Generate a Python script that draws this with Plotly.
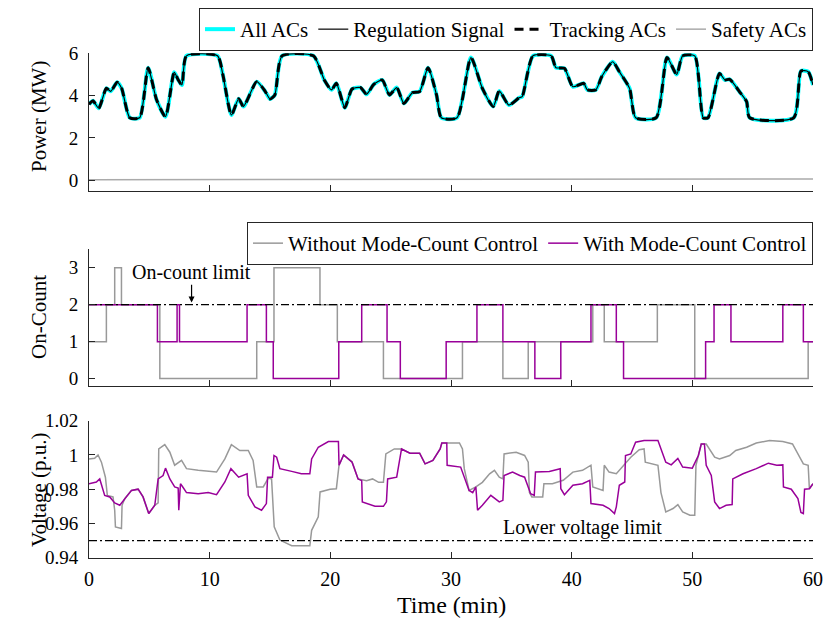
import plotly.graph_objects as go

# ---------------- data ----------------
# Top panel: power (MW) vs time (min)
power_t = [0, 0.33, 0.81, 1.44, 1.8, 2.33, 2.7, 3.38, 4.2, 4.9, 5.6, 6.34, 7.06, 7.4, 7.7, 8.08,
           10.65, 11.1, 11.8, 12.4, 12.8, 13.9, 14.6, 15.0, 15.4, 16.0, 18.6, 19.5, 20.1, 20.5,
           21.2, 21.8, 22.5, 23.0, 23.6, 24.3, 24.9, 25.5, 26.1, 26.8, 27.4, 28.1, 28.8, 29.2,
           30.5, 31.65, 32.6, 33.5, 34.0, 34.8, 35.65, 35.9, 36.8, 38.3, 38.7, 39.4, 40.1, 41.0,
           41.3, 42.0, 42.5, 43.4, 43.95, 44.8, 45.3, 47.0, 47.9, 48.7, 49.2, 50.2, 50.9, 51.3,
           52.25, 52.7, 53.1, 53.9, 54.5, 54.75, 58.4, 59.0, 59.6, 60]
regulation_signal = [3.59, 3.75, 3.4, 4.35, 4.2, 4.63, 4.35, 2.95, 2.95, 5.32, 3.8, 3.0, 5.1, 4.74,
                     4.5, 5.88, 5.88, 4.97, 3.08, 3.85, 3.48, 4.66, 4.2, 3.84, 4.03, 5.88, 5.88,
                     4.74, 4.27, 4.58, 3.43, 4.31, 4.38, 4.06, 4.53, 4.74, 4.03, 4.38, 3.63, 4.14,
                     4.19, 5.32, 4.03, 2.95, 2.95, 5.8, 4.34, 3.48, 4.22, 3.55, 3.9, 3.95, 5.88,
                     5.88, 5.32, 5.29, 4.42, 4.58, 4.27, 4.27, 4.9, 5.6, 5.13, 4.34, 2.95, 2.95,
                     5.8, 5.0, 5.88, 5.88, 2.95, 2.95, 5.05, 4.74, 4.77, 4.19, 3.71, 2.95, 2.95,
                     5.16, 5.13, 4.5]
all_acs = list(regulation_signal)
tracking_acs = list(regulation_signal)
safety_t = [0, 20, 40, 60]
safety_acs = [0.02, 0.02, 0.03, 0.05]

# Middle panel: on-count (step)
without_t = [0, 1.44, 2.13, 2.69, 5.87, 13.9, 15.33, 19.14, 20.58, 24.4, 30.95, 34.3, 36.4,
             41.75, 42.7, 47.1, 50.2, 59.6, 60]
without_count = [1, 2, 3, 2, 0, 1, 3, 2, 1, 0, 1, 0, 1, 2, 1, 2, 0, 1, 1]
with_t = [0, 5.67, 7.3, 7.5, 13.1, 14.7, 15.27, 20.7, 22.6, 24.7, 25.8, 29.6, 32.15, 34.3,
          36.95, 39.1, 41.6, 43.7, 44.3, 51.1, 51.8, 53.2, 57.5, 59.2, 60]
with_count = [2, 1, 2, 1, 2, 1, 0, 1, 2, 1, 0, 1, 2, 1, 0, 1, 2, 1, 0, 1, 2, 1, 2, 1, 1]
on_count_limit = 2

# Bottom panel: voltage (p.u.)
v_without_t = [0, 0.47, 0.75, 1.03, 1.36, 1.52, 1.99, 2.13, 2.19, 2.69, 2.74, 2.96, 3.52, 4.07,
               4.48, 4.95, 5.45, 5.73, 5.78, 6.28, 6.7, 7.1, 7.67, 8.08, 9.05, 10.57, 11.26,
               11.8, 12.5, 13.2, 13.6, 13.9, 14.44, 14.86, 15.13, 15.35, 15.82, 16.8, 18.3,
               18.45, 19.0, 19.15, 19.98, 20.5, 20.72, 21.1, 21.8, 22.3, 23.0, 23.5, 24.0, 24.4,
               24.6, 25.3, 25.9, 26.6, 27.4, 27.85, 28.5, 29.1, 29.24, 30.7, 30.95, 31.1, 31.5,
               32.06, 32.6, 33.2, 33.6, 34.0, 34.3, 34.4, 35.4, 36.1, 36.4, 36.5, 36.7, 37.6,
               37.7, 38.4, 39.3, 40.1, 40.9, 41.6, 41.75, 42.6, 42.7, 43.1, 43.7, 44.4, 44.9,
               45.6, 46.0, 46.1, 46.7, 47.15, 47.4, 47.8, 48.4, 48.8, 49.2, 49.8, 50.2, 50.3,
               50.74, 51.15, 51.85, 52.25, 53.1, 53.6, 54.5, 55.3, 56.4, 57.5, 58.3, 59.2, 59.6,
               59.7, 60]
v_without = [0.9977, 0.998, 1.0, 0.9958, 0.987, 0.9764, 0.9755, 0.9677, 0.958, 0.957, 0.9706,
             0.9745, 0.9793, 0.98, 0.9755, 0.9658, 0.9706, 0.972, 1.0035, 1.006, 1.0016, 0.994,
             0.9968, 0.992, 0.991, 0.99, 0.9977, 1.006, 1.0026, 1.0026, 0.9968, 0.9813, 0.9813,
             0.9865, 0.986, 0.958, 0.9503, 0.947, 0.947, 0.956, 0.9639, 0.9784, 0.98, 0.9803,
             0.994, 1.0, 0.996, 0.986, 0.985, 0.986, 0.984, 0.984, 1.0006, 1.0035, 1.0035, 1.001,
             1.001, 0.9948, 0.9968, 1.0035, 1.007, 1.007, 1.0035, 0.992, 0.9793, 0.9813, 0.984,
             0.989, 0.991, 0.987, 0.986, 1.0006, 1.0016, 0.9997, 0.9958, 0.978, 0.9755, 0.9755,
             0.9832, 0.9832, 0.9852, 0.99, 0.991, 0.994, 0.9813, 0.9793, 0.994, 0.99, 0.989,
             0.9948, 0.9987, 1.0031, 1.0035, 0.9958, 0.9948, 0.994, 0.978, 0.9667, 0.9687, 0.971,
             0.9667, 0.9648, 0.9648, 0.994, 1.0064, 1.0064, 0.9987, 0.9977, 0.9997, 1.0026,
             1.0045, 1.007, 1.0084, 1.0078, 1.0064, 0.9948, 0.994, 0.9803, 0.9832]
v_with_t = [0, 0.61, 0.89, 1.3, 1.72, 2.13, 2.55, 2.96, 3.52, 4.07, 4.48, 4.95, 5.45, 5.73, 6.14,
            6.34, 6.7, 7.1, 7.39, 7.44, 7.58, 7.8, 8.08, 9.05, 9.88, 10.57, 11.26, 11.76, 12.4,
            13.1, 13.2, 13.75, 14.3, 14.7, 14.8, 15.2, 15.33, 15.55, 15.82, 16.8, 17.6, 18.3,
            18.45, 19.0, 19.84, 20.67, 20.72, 21.1, 21.8, 22.3, 22.6, 22.65, 23.1, 23.7, 24.4,
            24.65, 24.75, 25.5, 25.9, 26.6, 27.4, 27.85, 28.5, 29.1, 29.24, 29.65, 29.68, 30.8,
            31.5, 31.8, 32.06, 32.2, 32.6, 33.3, 34.0, 34.3, 34.4, 35.1, 35.7, 36.1, 36.6, 36.9,
            37.0, 38.15, 39.05, 39.1, 39.4, 40.1, 40.9, 41.5, 41.6, 42.6, 43.1, 43.55, 43.7,
            43.95, 44.4, 44.46, 44.9, 45.3, 46.0, 47.15, 47.8, 48.25, 48.8, 49.2, 50.0, 50.5,
            50.74, 51.0, 51.15, 51.57, 51.85, 52.25, 52.8, 53.3, 53.35, 54.2, 55.3, 56.3, 57.0,
            57.5, 57.55, 58.2, 58.75, 59.0, 59.2, 59.3, 59.7, 60]
v_with = [0.9832, 0.9842, 0.986, 0.9764, 0.9755, 0.972, 0.9706, 0.9745, 0.9793, 0.98, 0.9755,
          0.9658, 0.9706, 0.986, 0.988, 0.9923, 0.986, 0.9813, 0.9807, 0.9677, 0.9832, 0.981,
          0.978, 0.9774, 0.978, 0.9768, 0.9842, 0.992, 0.987, 0.989, 0.9764, 0.9697, 0.9677,
          0.9716, 0.987, 0.987, 0.9997, 0.9987, 0.992, 0.9904, 0.989, 0.989, 0.9977, 1.0045,
          1.0078, 1.0078, 0.994, 1.0, 0.9958, 0.986, 0.985, 0.9726, 0.9716, 0.97, 0.97, 0.9726,
          0.986, 0.987, 1.0035, 1.001, 1.001, 0.9948, 0.9968, 1.0035, 1.007, 1.007, 0.994,
          0.9929, 0.9793, 0.978, 0.9813, 0.9677, 0.9706, 0.9764, 0.9726, 0.9735, 0.988, 0.99,
          0.988, 0.987, 0.9774, 0.9764, 0.99, 0.9904, 0.992, 0.9803, 0.9768, 0.9823, 0.9832,
          0.9852, 0.9716, 0.9706, 0.9687, 0.9658, 0.9697, 0.9823, 0.9842, 0.9997, 1.0006,
          1.0074, 1.0084, 1.0084, 0.9958, 0.9942, 0.998, 0.9929, 0.9923, 0.9997, 1.0064, 1.0064,
          0.994, 0.988, 0.9726, 0.9687, 0.9706, 0.971, 0.986, 0.989, 0.992, 0.9952, 0.994,
          0.9942, 0.9813, 0.98, 0.9745, 0.9664, 0.9658, 0.98, 0.9803, 0.9832]
lower_voltage_limit = 0.95

time_ticks = [0, 10, 20, 30, 40, 50, 60]

# ---------------- styling ----------------
FONT = "Liberation Serif, Times New Roman, serif"
AX = "#262626"
GRAY = "#999999"
PURPLE = "#990099"
DASHDOT = "8px,3px,2px,3px"
H = 622
W = 828
ML, MR = 89, 15
PW = W - ML - MR

fig = go.Figure()

# Top panel
fig.add_trace(go.Scatter(x=power_t, y=all_acs, name="All ACs", mode="lines",
                         line=dict(color="#00FFFF", width=4, shape="spline", smoothing=0.6),
                         xaxis="x", yaxis="y", legend="legend"))
fig.add_trace(go.Scatter(x=power_t, y=regulation_signal, name="Regulation Signal", mode="lines",
                         line=dict(color="black", width=1.2, shape="spline", smoothing=0.6),
                         xaxis="x", yaxis="y", legend="legend"))
fig.add_trace(go.Scatter(x=power_t, y=tracking_acs, name="Tracking ACs", mode="lines",
                         line=dict(color="black", width=3, dash="9px,6px", shape="spline", smoothing=0.6),
                         xaxis="x", yaxis="y", legend="legend"))
fig.add_trace(go.Scatter(x=safety_t, y=safety_acs, name="Safety ACs", mode="lines",
                         line=dict(color="#AAAAAA", width=1.5),
                         xaxis="x", yaxis="y", legend="legend"))

# Middle panel
fig.add_trace(go.Scatter(x=without_t, y=without_count, name="Without Mode-Count Control",
                         mode="lines", line=dict(color=GRAY, width=1.5, shape="hv"),
                         xaxis="x2", yaxis="y2", legend="legend2"))
fig.add_trace(go.Scatter(x=with_t, y=with_count, name="With Mode-Count Control",
                         mode="lines", line=dict(color=PURPLE, width=1.5, shape="hv"),
                         xaxis="x2", yaxis="y2", legend="legend2"))
fig.add_trace(go.Scatter(x=[0, 60], y=[on_count_limit, on_count_limit], mode="lines",
                         line=dict(color="black", width=1.3, dash=DASHDOT), showlegend=False,
                         xaxis="x2", yaxis="y2"))

# Bottom panel
fig.add_trace(go.Scatter(x=v_without_t, y=v_without, mode="lines", showlegend=False,
                         line=dict(color=GRAY, width=1.5), xaxis="x3", yaxis="y3"))
fig.add_trace(go.Scatter(x=v_with_t, y=v_with, mode="lines", showlegend=False,
                         line=dict(color=PURPLE, width=1.5), xaxis="x3", yaxis="y3"))
fig.add_trace(go.Scatter(x=[0, 60], y=[lower_voltage_limit, lower_voltage_limit], mode="lines",
                         line=dict(color="black", width=1.3, dash=DASHDOT), showlegend=False,
                         xaxis="x3", yaxis="y3"))


def dom(top_px, bottom_px):
    return [1 - bottom_px / H, 1 - top_px / H]


def px_x(px):
    return (px - ML) / PW


axis_common = dict(showline=True, linecolor=AX, linewidth=1, ticks="inside", ticklen=6,
                   tickcolor=AX, showgrid=False, zeroline=False, automargin=False)
YTICKFONT = dict(family=FONT, size=19, color="black")

fig.update_layout(
    width=W, height=H,
    margin=dict(l=ML, r=MR, t=0, b=0),
    paper_bgcolor="white", plot_bgcolor="white",
    font=dict(family=FONT, size=20, color="black"),
    xaxis=dict(domain=[0, 1], range=[0, 60], tickvals=time_ticks, showticklabels=False,
               anchor="y", **axis_common),
    yaxis=dict(domain=dom(53.3, 190.7), range=[-0.5, 6], tickvals=[0, 2, 4, 6],
               anchor="x", ticklabelstandoff=6, tickfont=YTICKFONT, **axis_common),
    xaxis2=dict(domain=[0, 1], range=[0, 60], tickvals=time_ticks, showticklabels=False,
                anchor="y2", **axis_common),
    yaxis2=dict(domain=dom(249.3, 386), range=[-0.2, 3.5], tickvals=[0, 1, 2, 3],
                anchor="x2", ticklabelstandoff=6, tickfont=YTICKFONT, **axis_common),
    xaxis3=dict(domain=[0, 1], range=[0, 60], tickvals=time_ticks, anchor="y3",
                ticklabelstandoff=3, tickfont=dict(family=FONT, size=20, color="black"),
                **axis_common),
    yaxis3=dict(domain=dom(420.7, 557.7), range=[0.94, 1.02],
                tickvals=[0.94, 0.96, 0.98, 1.0, 1.02],
                ticktext=["0.94", "0.96", "0.98", "1", "1.02"], anchor="x3",
                ticklabelstandoff=6, tickfont=YTICKFONT, **axis_common),
    legend=dict(orientation="h", x=1, xanchor="right", y=1 - 8 / H, yanchor="top",
                bordercolor=AX, borderwidth=1, bgcolor="white",
                font=dict(family=FONT, size=21, color="black"), itemwidth=30),
    legend2=dict(orientation="h", x=1, xanchor="right", y=1 - 222 / H, yanchor="top",
                 bordercolor=AX, borderwidth=1, bgcolor="white",
                 font=dict(family=FONT, size=21, color="black"), itemwidth=30),
    showlegend=True,
)

ann = []
# axis titles
for txt, ycen in [("Power (MW)", 117), ("On-Count", 317), ("Voltage (p.u.)", 490)]:
    ann.append(dict(text=txt, x=px_x(39), y=1 - ycen / H, xref="paper", yref="paper",
                    xanchor="center", yanchor="middle", textangle=-90, showarrow=False,
                    font=dict(family=FONT, size=21)))
ann.append(dict(text="Time (min)", x=30, y=1 - 605 / H, xref="x3", yref="paper",
                xanchor="center", yanchor="middle", showarrow=False,
                font=dict(family=FONT, size=24)))
# in-plot labels
ann.append(dict(text="On-count limit", x=8.5, y=2.89, xref="x2", yref="y2", showarrow=False,
                xanchor="center", yanchor="middle", font=dict(family=FONT, size=20)))
ann.append(dict(text="", x=8.5, y=2.06, ax=8.5, ay=2.58, xref="x2", yref="y2",
                axref="x2", ayref="y2", showarrow=True, arrowhead=2, arrowsize=1,
                arrowwidth=1.2, arrowcolor="black"))
ann.append(dict(text="Lower voltage limit", x=40.9, y=0.9575, xref="x3", yref="y3",
                xanchor="center", yanchor="middle", showarrow=False,
                font=dict(family=FONT, size=20)))
fig.update_layout(annotations=ann)

fig.write_html("out.html", config={"displayModeBar": False},
               post_script="document.body.style.margin='0';")
